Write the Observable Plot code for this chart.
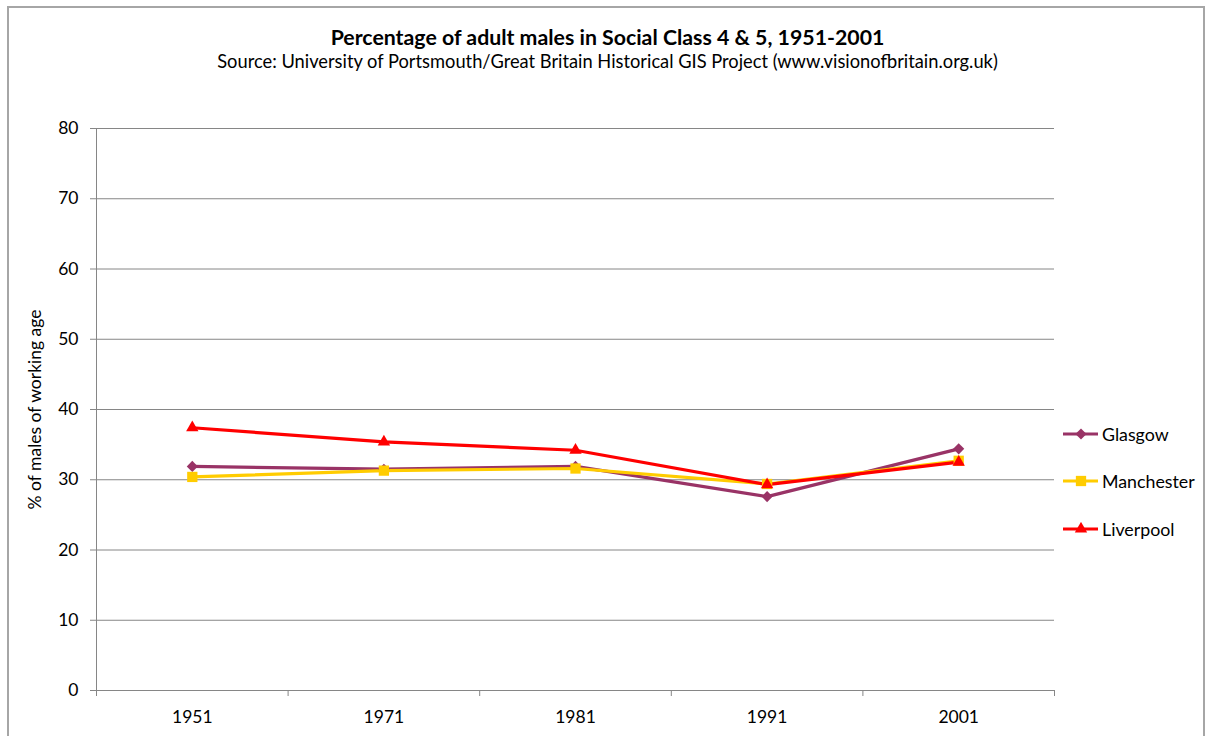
<!DOCTYPE html>
<html>
<head>
<meta charset="utf-8">
<script src="https://cdn.jsdelivr.net/npm/d3@7"></script>
<script src="https://cdn.jsdelivr.net/npm/@observablehq/plot@0.6"></script>
<style>
  html, body { margin: 0; padding: 0; background: #fff; }
  #wrap { position: relative; width: 1210px; height: 736px; overflow: hidden; font-family: Lato, "Open Sans", sans-serif; color: #000; }
  #frame { position: absolute; left: 7px; top: 6px; width: 1198px; height: 780px; border: 2px solid #a6a6a6; box-sizing: border-box; }
  #title { position: absolute; left: 0; width: 1215px; top: 23px; text-align: center; font-weight: 700; font-size: 21.3px; line-height: 28px; }
  #subtitle { position: absolute; left: 0; width: 1215px; top: 49px; text-align: center; font-size: 18.3px; line-height: 24px; }
  #chart { position: absolute; left: 0; top: 0; }
  #legend { position: absolute; left: 1062px; top: 410px; }
  .item { display: flex; align-items: center; height: 47.5px; font-size: 17.8px; }
  .item svg { margin-right: 3px; }
</style>
</head>
<body>
<div id="wrap">
  <div id="frame"></div>
  <div id="chart"></div>
  <div id="title">Percentage of adult males in Social Class 4 &amp; 5, 1951-2001</div>
  <div id="subtitle">Source: University of Portsmouth/Great Britain Historical GIS Project (www.visionofbritain.org.uk)</div>
  <div id="legend"></div>
</div>
<script>
// Census years (categories) and the share of working-age males in classes 4 & 5
const years = ["1951", "1971", "1981", "1991", "2001"];
const glasgow    = [31.9, 31.5, 31.9, 27.6, 34.4];
const manchester = [30.4, 31.3, 31.6, 29.4, 32.7];
const liverpool  = [37.4, 35.4, 34.2, 29.3, 32.5];
const yTicks = [0, 10, 20, 30, 40, 50, 60, 70, 80];

const series = [
  { name: "Glasgow",    values: glasgow,    color: "#993366", symbol: "diamond2", r: 5 },
  { name: "Manchester", values: manchester, color: "#FFCC00", symbol: "square",   r: 5.8 },
  { name: "Liverpool",  values: liverpool,  color: "#FF0000", symbol: "triangle", r: 4.6 }
];

// Long-format table: one row per city and year, x is the category index
const rows = series.flatMap(s => s.values.map((v, i) => ({ city: s.name, i, value: v })));
const idx = years.map((_, i) => i);
const bounds = d3.range(-0.5, years.length, 1);
const axisGray = "#868686";

const chart = Plot.plot({
  width: 1210,
  height: 736,
  marginLeft: 96,
  marginRight: 156,
  marginTop: 128,
  marginBottom: 46,
  style: { fontFamily: "Lato, 'Open Sans', sans-serif", fontSize: "18px", color: "#000", background: "transparent" },
  x: { type: "linear", domain: [-0.5, years.length - 0.5] },
  y: { domain: [0, 80] },
  marks: [
    Plot.gridY(yTicks, { stroke: axisGray, strokeOpacity: 1, strokeWidth: 1 }),
    Plot.ruleX([-0.5], { stroke: axisGray }),
    Plot.ruleY([0], { stroke: axisGray }),
    Plot.axisY(yTicks, {
      tickSize: 6, tickPadding: 12, stroke: axisGray,
      label: "% of males of working age", labelAnchor: "center", labelOffset: 68, labelArrow: "none",
      fontSize: 17.5
    }),
    Plot.axisX(bounds, { tickSize: 6, stroke: axisGray, tickFormat: () => "", label: null }),
    Plot.axisX(idx, { tickSize: 0, tickPadding: 20, tickFormat: i => years[i], label: null, fontSize: 17.5 }),
    ...series.map(s => Plot.line(rows.filter(d => d.city === s.name), {
      x: "i", y: "value", stroke: s.color, strokeWidth: 3.2
    })),
    ...series.map(s => Plot.dot(rows.filter(d => d.city === s.name), {
      x: "i", y: "value", fill: s.color, stroke: null, symbol: s.symbol, r: s.r
    }))
  ]
});
document.getElementById("chart").appendChild(chart);

// Legend: a short line with the series marker, then the city name
const legend = d3.select("#legend");
for (const s of series) {
  const item = legend.append("div").attr("class", "item");
  const sv = item.append("svg").attr("width", 37).attr("height", 14);
  sv.append("line").attr("x1", 1).attr("x2", 36).attr("y1", 7).attr("y2", 7)
    .attr("stroke", s.color).attr("stroke-width", 3);
  const sym = { diamond2: d3.symbolDiamond2, square: d3.symbolSquare, triangle: d3.symbolTriangle }[s.symbol];
  sv.append("path").attr("transform", "translate(19,7)")
    .attr("d", d3.symbol(sym, Math.PI * s.r * s.r)()).attr("fill", s.color);
  item.append("span").text(s.name);
}
</script>
</body>
</html>
